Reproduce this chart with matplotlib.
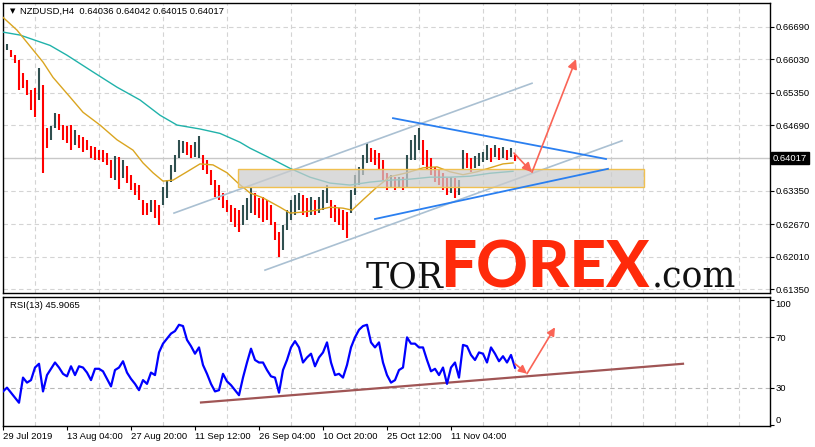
import matplotlib
matplotlib.use('Agg')
import matplotlib.pyplot as plt
import matplotlib.transforms as mtransforms
from matplotlib.patches import Rectangle

plt.rcParams['font.family'] = ['Liberation Sans', 'DejaVu Sans']

# ---- datos (indice = velas H4 desde el 29 Jul 2019) ----
bar_idx = list(range(0, 513, 4))
high = [0.6632, 0.6634, 0.6622, 0.6611, 0.6601, 0.6575, 0.6561, 0.6540, 0.6544, 0.6585,
        0.6550, 0.6463, 0.6467, 0.6493, 0.6491, 0.6469, 0.6467, 0.6469, 0.6459, 0.6449,
        0.6445, 0.6439, 0.6427, 0.6425, 0.6418, 0.6418, 0.6412, 0.6398, 0.6406, 0.6404,
        0.6398, 0.6386, 0.6368, 0.6351, 0.6347, 0.6317, 0.6311, 0.6317, 0.6317, 0.6306,
        0.6343, 0.6357, 0.6388, 0.6408, 0.6439, 0.6437, 0.6435, 0.6429, 0.6435, 0.6447,
        0.6408, 0.6398, 0.6378, 0.6357, 0.6347, 0.6331, 0.6317, 0.6306, 0.6300, 0.6296,
        0.6306, 0.6321, 0.6343, 0.6331, 0.6321, 0.6323, 0.6317, 0.6306, 0.6272, 0.6252,
        0.6266, 0.6296, 0.6317, 0.6327, 0.6331, 0.6327, 0.6321, 0.6323, 0.6317, 0.6323,
        0.6337, 0.6347, 0.6317, 0.6306, 0.6300, 0.6296, 0.6292, 0.6337, 0.6368, 0.6384,
        0.6408, 0.6433, 0.6422, 0.6418, 0.6412, 0.6398, 0.6372, 0.6368, 0.6364, 0.6364,
        0.6364, 0.6408, 0.6439, 0.6449, 0.6463, 0.6439, 0.6418, 0.6402, 0.6384, 0.6378,
        0.6372, 0.6362, 0.6364, 0.6362, 0.6357, 0.6418, 0.6412, 0.6402, 0.6406, 0.6412,
        0.6414, 0.6429, 0.6422, 0.6429, 0.6422, 0.6425, 0.6418, 0.6422, 0.6408]
low = [0.6618, 0.6622, 0.6607, 0.6595, 0.6540, 0.6544, 0.6530, 0.6500, 0.6485, 0.6520,
       0.6372, 0.6422, 0.6439, 0.6463, 0.6459, 0.6439, 0.6433, 0.6418, 0.6429, 0.6422,
       0.6414, 0.6418, 0.6402, 0.6398, 0.6398, 0.6394, 0.6388, 0.6362, 0.6357, 0.6339,
       0.6362, 0.6351, 0.6337, 0.6327, 0.6317, 0.6286, 0.6286, 0.6292, 0.6280, 0.6266,
       0.6306, 0.6321, 0.6353, 0.6374, 0.6402, 0.6412, 0.6408, 0.6402, 0.6404, 0.6402,
       0.6378, 0.6370, 0.6347, 0.6323, 0.6317, 0.6300, 0.6292, 0.6272, 0.6262, 0.6252,
       0.6266, 0.6276, 0.6290, 0.6286, 0.6280, 0.6272, 0.6276, 0.6266, 0.6235, 0.6200,
       0.6215, 0.6256, 0.6276, 0.6286, 0.6296, 0.6286, 0.6282, 0.6286, 0.6286, 0.6290,
       0.6296, 0.6311, 0.6280, 0.6272, 0.6266, 0.6256, 0.6240, 0.6290, 0.6327, 0.6347,
       0.6368, 0.6392, 0.6394, 0.6388, 0.6378, 0.6357, 0.6337, 0.6341, 0.6337, 0.6341,
       0.6337, 0.6341, 0.6398, 0.6398, 0.6418, 0.6388, 0.6378, 0.6368, 0.6353, 0.6347,
       0.6337, 0.6327, 0.6331, 0.6321, 0.6327, 0.6378, 0.6382, 0.6374, 0.6382, 0.6386,
       0.6394, 0.6398, 0.6394, 0.6404, 0.6398, 0.6402, 0.6398, 0.6404, 0.6396]

ma_fast_idx = [0, 14, 40, 50, 67, 80, 97, 114, 130, 140, 150, 160, 170, 184, 197, 210, 224,
               235, 247, 260, 277, 287, 300, 314, 327, 340, 349, 360, 374, 387, 404, 420,
               434, 447, 460, 474, 487, 500, 510]
ma_fast = [0.6688, 0.6662, 0.6597, 0.6566, 0.6526, 0.6495, 0.6469, 0.6439, 0.6418, 0.6392,
           0.6372, 0.6355, 0.6357, 0.6374, 0.6390, 0.6388, 0.6372, 0.6351, 0.6331, 0.6321,
           0.6302, 0.6290, 0.6292, 0.6296, 0.6302, 0.6300, 0.6296, 0.6317, 0.6343, 0.6364,
           0.6372, 0.6382, 0.6384, 0.6374, 0.6368, 0.6374, 0.6382, 0.6390, 0.6392]
ma_slow_idx = [0, 17, 47, 64, 90, 114, 137, 157, 174, 197, 217, 237, 247, 267, 287, 307, 327,
               347, 367, 387, 407, 427, 447, 467, 487, 510]
ma_slow = [0.6658, 0.6652, 0.6631, 0.6611, 0.6577, 0.6546, 0.6520, 0.6489, 0.6469, 0.6461,
           0.6452, 0.6434, 0.6422, 0.6402, 0.6381, 0.6363, 0.6351, 0.6347, 0.6353, 0.6357,
           0.6359, 0.6363, 0.6363, 0.6365, 0.6371, 0.6375]

rsi = [27, 30, 26, 22, 18, 38, 34, 36, 46, 49,
       27, 40, 45, 50, 46, 41, 39, 47, 40, 47,
       46, 42, 36, 45, 45, 43, 37, 31, 44, 46,
       51, 42, 37, 33, 28, 36, 33, 42, 40, 58,
       65, 69, 73, 75, 80, 79, 68, 63, 57, 62,
       48, 41, 33, 27, 28, 41, 35, 32, 28, 24,
       38, 50, 61, 52, 50, 50, 44, 39, 38, 26,
       44, 52, 62, 67, 62, 50, 54, 57, 47, 54,
       58, 66, 50, 40, 41, 38, 48, 62, 70, 76,
       79, 80, 66, 62, 66, 50, 40, 34, 36, 44,
       46, 70, 65, 65, 62, 62, 52, 43, 45, 40,
       46, 33, 46, 50, 38, 64, 63, 56, 52, 58,
       57, 50, 62, 57, 51, 55, 50, 56, 45.9065]

precio_actual = 0.64017
precios_eje = [0.61350, 0.62010, 0.62670, 0.63350, 0.64690, 0.65350, 0.66030, 0.66690]
fechas_idx = [0, 64, 128, 192, 256, 320, 384, 448]
fechas = ['29 Jul 2019', '13 Aug 04:00', '27 Aug 20:00', '11 Sep 12:00',
          '26 Sep 04:00', '10 Oct 20:00', '25 Oct 12:00', '11 Nov 04:00']
rejilla_idx = list(range(32, 767, 32))
niveles_rsi = [30, 70]

# dibujos del analista
canal_sup = ([171, 529], [0.6290, 0.6554])
canal_inf = ([262, 619], [0.6174, 0.6437])
cuna_sup = ([390, 603], [0.6483, 0.6400])
cuna_inf = ([372, 605], [0.6278, 0.6380])
zona = (235, 641, 0.63426, 0.63793)
flecha1 = ((511, 0.6412), (529, 0.6373))
flecha2 = ((529, 0.6373), (573, 0.6603))
rsi_tendencia = ([198, 680], [18.2, 49.0])
rsi_flecha1 = ((512, 49.0), (524, 41.1))
rsi_flecha2 = ((524, 41.1), (552, 78.0))

W, H = 815, 447
fig = plt.figure(figsize=(W / 100, H / 100), dpi=100)
fig.patch.set_facecolor('white')
ax = fig.add_axes([2.5 / W, (H - 293) / H, 767 / W, 290.5 / H])
ax2 = fig.add_axes([2.5 / W, (H - 426) / H, 767 / W, 129 / H])

color_rejilla = '#d4d4d4'
for a in (ax, ax2):
    a.set_xlim(-0.5, 766.5)
    for s in a.spines.values():
        s.set_color('black')
        s.set_linewidth(1.0)
    a.set_xticks(rejilla_idx, minor=True)
    a.grid(which='minor', axis='x', color=color_rejilla, linestyle=(0, (4, 3)), linewidth=0.8)
    a.yaxis.tick_right()
    a.set_axisbelow(True)

# ---- panel de precio ----
ax.set_ylim(0.61275, 0.67182)
ax.set_yticks(precios_eje)
ax.set_yticklabels(['%.5f' % p for p in precios_eje])
ax.grid(which='major', axis='y', color=color_rejilla, linestyle=(0, (4, 3)), linewidth=0.8)
ax.tick_params(axis='y', length=3, width=0.8, pad=1.5, labelsize=6.8)
ax.set_xticks(fechas_idx)
ax.tick_params(axis='x', which='both', length=0, labelbottom=False)

ax.axhline(precio_actual, color='#c8c8c8', linewidth=1.0, zorder=1)

mid = [(h + l) / 2 for h, l in zip(high, low)]
colores = ['#ff0000' if i == 0 or mid[i] < mid[i - 1] else '#2f4f4f' for i in range(len(mid))]
ax.vlines(bar_idx, low, high, colors=colores, linewidth=1.5, zorder=2)

ax.plot(ma_slow_idx, ma_slow, color='#20b2aa', linewidth=1.0, zorder=3)
ax.plot(ma_fast_idx, ma_fast, color='#daa520', linewidth=1.0, zorder=3)

ax.plot(*canal_sup, color='#aac0d2', linewidth=1.2, zorder=3)
ax.plot(*canal_inf, color='#aac0d2', linewidth=1.2, zorder=3)

ax.add_patch(Rectangle((zona[0], zona[2]), zona[1] - zona[0], zona[3] - zona[2],
                       facecolor=(0.80, 0.80, 0.80, 0.72), edgecolor='#f0c050',
                       linewidth=1.0, zorder=4))

ax.plot(*cuna_sup, color='#2a7ff0', linewidth=1.3, zorder=5)
ax.plot(*cuna_inf, color='#2a7ff0', linewidth=1.3, zorder=5)

flecha_props = dict(arrowstyle='-|>', color='#fa6456', linewidth=1.2,
                    mutation_scale=14, shrinkA=0, shrinkB=0)
for ini, fin in (flecha1, flecha2):
    ax.annotate('', xy=fin, xytext=ini, arrowprops=flecha_props, zorder=6)

trans = mtransforms.blended_transform_factory(ax.transAxes, ax.transData)
ax.text(1.0 + 3.5 / 767, precio_actual, '%.5f' % precio_actual, transform=trans,
        ha='left', va='center', color='white', fontsize=6.8,
        bbox=dict(boxstyle='square,pad=0.18', facecolor='black', edgecolor='black'))

ax.text(7 / 767, 1 - 9 / 290.5, '\u25bc', transform=ax.transAxes, ha='left', va='center',
        fontsize=5, family=['DejaVu Sans'])
ax.text(17 / 767, 1 - 9 / 290.5, 'NZDUSD,H4  0.64036 0.64042 0.64015 0.64017',
        transform=ax.transAxes, ha='left', va='center', fontsize=6.8)

# logo
fig.text(366 / W, (H - 287) / H, 'TOR', fontsize=25, family=['DejaVu Serif'],
         color='#111111', ha='left', va='baseline')
fig.text(440 / W, (H - 287) / H, 'FOREX', fontsize=46, family=['Lato', 'DejaVu Sans'],
         fontweight='black', color='#ff2a0a', ha='left', va='baseline')
fig.text(652 / W, (H - 287) / H, '.com', fontsize=25, family=['DejaVu Serif'],
         color='#111111', ha='left', va='baseline')

# ---- panel RSI ----
ax2.set_ylim(-0.5, 102.1)
ax2.set_yticks([0, 30, 70, 100])
ax2.set_yticklabels(['0', '30', '70', '100'])
ax2.tick_params(axis='y', length=3, width=0.8, pad=1.5, labelsize=6.8)
lbls = ax2.get_yticklabels()
lbls[0].set_va('bottom')
lbls[3].set_va('top')
for nv in niveles_rsi:
    ax2.axhline(nv, color='#b8b8b8', linestyle=(0, (4, 3)), linewidth=0.8, zorder=1)

ax2.plot(bar_idx, rsi, color='#0000ff', linewidth=1.6, zorder=3)
ax2.plot(*rsi_tendencia, color='#a05555', linewidth=1.6, zorder=2)
flecha_props2 = dict(flecha_props, mutation_scale=12)
for ini, fin in (rsi_flecha1, rsi_flecha2):
    ax2.annotate('', xy=fin, xytext=ini, arrowprops=flecha_props2, zorder=6)

ax2.set_xticks(fechas_idx)
ax2.set_xticklabels(fechas, ha='left')
ax2.tick_params(axis='x', which='major', length=3, width=0.8, pad=1.5, labelsize=6.8)
ax2.tick_params(axis='x', which='minor', length=0)
ax2.text(7 / 767, 1 - 9 / 129, 'RSI(13) 45.9065', transform=ax2.transAxes,
         ha='left', va='center', fontsize=6.8)

fig.savefig('out.png', dpi=100)
